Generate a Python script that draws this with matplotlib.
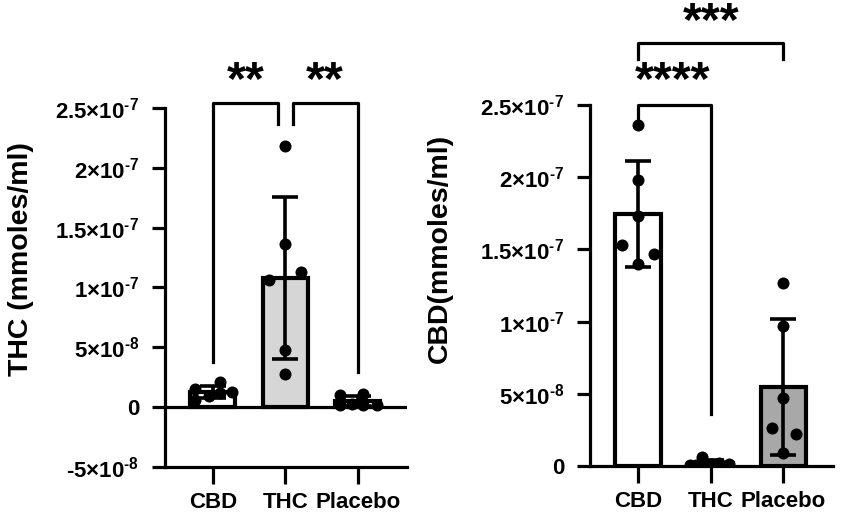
import numpy as np
import matplotlib
matplotlib.use("Agg")
import matplotlib.pyplot as plt

plt.rcParams['font.family'] = ['Liberation Sans', 'DejaVu Sans']
plt.rcParams['font.weight'] = 'bold'
plt.rcParams['mathtext.fontset'] = 'custom'
plt.rcParams['mathtext.rm'] = 'Liberation Sans:bold'
plt.rcParams['mathtext.it'] = 'Liberation Sans:bold'
plt.rcParams['mathtext.bf'] = 'Liberation Sans:bold'

groups = ["CBD", "THC", "Placebo"]

# THC levels (mmoles/ml), 6 animals per group
thc_cbd = [1.5e-8, 0.6e-8, 2.1e-8, 1.2e-8, 1.3e-8, 0.9e-8]
thc_thc = [2.18e-7, 1.36e-7, 1.13e-7, 1.06e-7, 4.75e-8, 2.8e-8]
thc_pla = [1.0e-8, 0.2e-8, 1.1e-8, 0.3e-8, 0.2e-8, 0.2e-8]

# CBD levels (mmoles/ml)
cbd_cbd = [2.36e-7, 1.98e-7, 1.73e-7, 1.53e-7, 1.47e-7, 1.40e-7]
cbd_thc = [0.1e-8, 0.6e-8, 0.15e-8, 0.2e-8, 0.15e-8, 0.1e-8]
cbd_pla = [1.27e-7, 0.97e-7, 4.73e-8, 2.65e-8, 2.2e-8, 0.9e-8]

thc_ticks = [-5e-8, 0, 5e-8, 1e-7, 1.5e-7, 2e-7, 2.5e-7]
cbd_ticks = [0, 5e-8, 1e-7, 1.5e-7, 2e-7, 2.5e-7]
tick_text = {-5e-8: r'-5×10$^{\text{-8}}$', 0: '0', 5e-8: r'5×10$^{\text{-8}}$',
             1e-7: r'1×10$^{\text{-7}}$', 1.5e-7: r'1.5×10$^{\text{-7}}$',
             2e-7: r'2×10$^{\text{-7}}$', 2.5e-7: r'2.5×10$^{\text{-7}}$'}

# horizontal scatter of the dots (style only)
jit_thc = [[-0.25, -0.25, 0.1, 0.1, 0.27, -0.05],
           [0.0, 0.0, 0.22, -0.22, 0.0, 0.0],
           [-0.25, -0.25, 0.07, -0.08, 0.07, 0.26]]
jit_cbd = [[0.0, 0.0, 0.0, -0.22, 0.22, 0.0],
           [-0.28, -0.12, 0.0, 0.12, 0.25, -0.2],
           [0.0, 0.0, 0.0, -0.16, 0.17, 0.0]]


def panel(ax, data, jit, colors, ticks, ylim, ylabel, lab_xy):
    lw = 2.3
    for i, vals in enumerate(data):
        m = np.mean(vals)
        sd = np.std(vals, ddof=1)
        ax.bar(i, m, width=0.62, color=colors[i], edgecolor='black', linewidth=lw + 0.7, zorder=2)
        ax.scatter(np.full(len(vals), i) + np.array(jit[i]), vals, s=75, color='black',
                   linewidths=0, zorder=3)
        ax.errorbar(i, m, yerr=sd, color='black', capsize=9.5, capthick=lw + 0.3,
                    elinewidth=lw + 0.3, zorder=4)
    ax.set_xlim(-0.66, 2.68)
    ax.set_ylim(*ylim)
    ax.set_yticks(ticks)
    ax.set_yticklabels([tick_text[t] for t in ticks])
    ax.set_xticks(range(3))
    ax.set_xticklabels(groups)
    for s in ['top', 'right']:
        ax.spines[s].set_visible(False)
    for s in ['left', 'bottom']:
        ax.spines[s].set_linewidth(lw)
    ax.tick_params(axis='y', length=9.5, width=lw, labelsize=16, pad=9)
    ax.tick_params(axis='x', length=12, width=lw, labelsize=16, pad=6)
    ax.set_ylabel(ylabel, fontsize=20.5, fontweight='bold')
    ax.yaxis.set_label_coords(*lab_xy)


def bracket(ax, x1, x2, y, y1, y2):
    ax.plot([x1, x1, x2, x2], [y1, y, y, y2], color='black', lw=2.3, clip_on=False, zorder=5)


def stars(ax, x, y, text):
    ax.text(x, y, text, ha='center', va='center', fontsize=35, fontweight='bold', clip_on=False)


fig = plt.figure(figsize=(8.51, 5.18), dpi=100)
ax1 = fig.add_axes([0.1939, 0.0985, 0.2844, 0.693])
ax2 = fig.add_axes([0.6933, 0.1004, 0.2855, 0.697])

panel(ax1, [thc_cbd, thc_thc, thc_pla], jit_thc, ['white', '#d6d6d6', 'white'], thc_ticks,
      (-5e-8, 2.5e-7), 'THC (mmoles/ml)', (-0.54, 0.578))
ax1.axhline(0, color='black', lw=2.3, zorder=1)
bracket(ax1, 0, 0.9, 2.54e-7, 3.8e-8, 2.37e-7)
bracket(ax1, 1.1, 2.0, 2.54e-7, 2.37e-7, 2.9e-8)
stars(ax1, 0.45, 2.72e-7, '**')
stars(ax1, 1.55, 2.72e-7, '**')

panel(ax2, [cbd_cbd, cbd_thc, cbd_pla], jit_cbd, ['white', 'white', '#a8a8a8'], cbd_ticks,
      (0, 2.5e-7), 'CBD(mmoles/ml)', (-0.565, 0.602))
bracket(ax2, 0, 1, 2.5e-7, 2.37e-7, 3.6e-8)
bracket(ax2, 0, 2, 2.93e-7, 2.82e-7, 2.82e-7)
stars(ax2, 0.48, 2.66e-7, '****')
stars(ax2, 1.0, 3.07e-7, '***')

fig.savefig("out.png", dpi=100)
